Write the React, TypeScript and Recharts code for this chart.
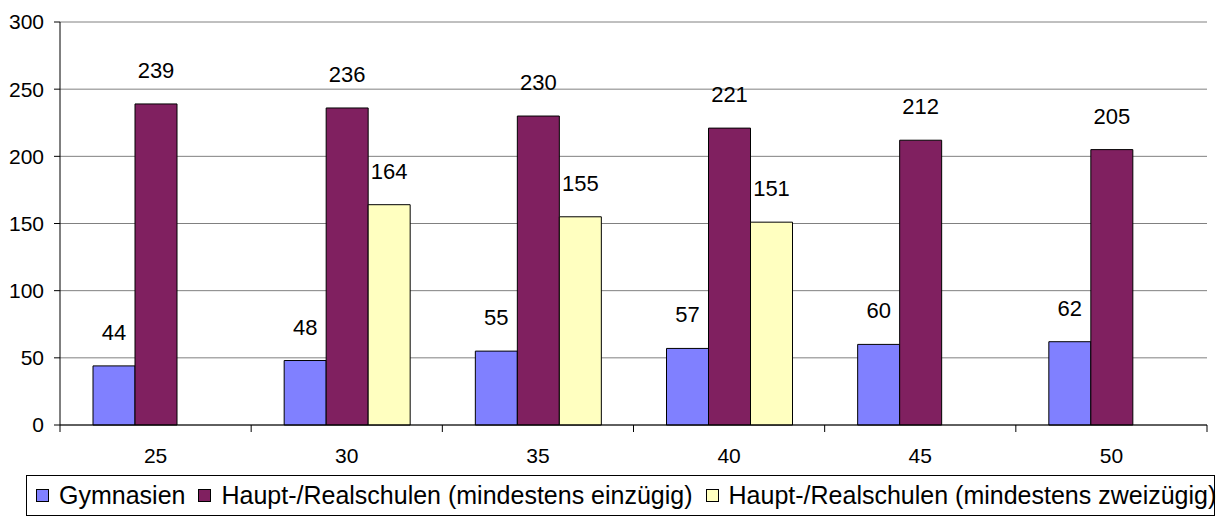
import React from 'react';
import { BarChart, Bar, XAxis, YAxis, CartesianGrid, Legend, LabelList } from 'recharts';

const categories = ['25', '30', '35', '40', '45', '50'];
const gymnasien = [44, 48, 55, 57, 60, 62];
const einzuegig = [239, 236, 230, 221, 212, 205];
const zweizuegig: (number | null)[] = [null, 164, 155, 151, null, null];
const yTicks = [0, 50, 100, 150, 200, 250, 300];

const seriesNames = [
  'Gymnasien',
  'Haupt-/Realschulen (mindestens einzügig)',
  'Haupt-/Realschulen (mindestens zweizügig)',
];
const seriesColors = ['#8080FF', '#802060', '#FFFFC0'];

const data = categories.map((c, i) => ({
  cat: c,
  g: gymnasien[i],
  e: einzuegig[i],
  z: zweizuegig[i],
}));

const FONT = '"Liberation Sans", Arial, sans-serif';

const XTick = (props: any) => {
  const { x, y, payload, index } = props;
  const half = payload && payload.offset ? payload.offset : 95.6;
  const last = index === categories.length - 1;
  return (
    <g>
      <line x1={x - half} x2={x - half} y1={y} y2={y + 7} stroke="#000" strokeWidth={1} />
      {last && <line x1={x + half} x2={x + half} y1={y} y2={y + 7} stroke="#000" strokeWidth={1} />}
      <text x={x} y={y + 38} textAnchor="middle" fontSize={21} fontFamily={FONT} fill="#000">
        {payload.value}
      </text>
    </g>
  );
};

const LegendContent = () => (
  <div
    style={{
      boxSizing: 'border-box',
      width: 1189,
      height: 41,
      border: '1px solid #000',
      display: 'flex',
      alignItems: 'center',
      paddingLeft: 9,
      fontFamily: FONT,
      fontSize: 25,
      color: '#000',
      whiteSpace: 'nowrap',
    }}
  >
    {seriesNames.map((n, i) => (
      <div key={n} style={{ display: 'flex', alignItems: 'center', marginRight: 13 }}>
        <span
          style={{
            display: 'inline-block',
            boxSizing: 'border-box',
            width: 13,
            height: 13,
            background: seriesColors[i],
            border: '1.5px solid #000',
            marginRight: 10,
          }}
        />
        <span>{n}</span>
      </div>
    ))}
  </div>
);

const fmt = (v: any) => (v === null || v === undefined ? '' : v);
const labelStyle = { fontSize: 22, fontFamily: FONT, fill: '#000' };

export default function App() {
  return (
    <div style={{ position: 'absolute', left: 0, top: 0, width: 1220, height: 518, background: '#fff' }}>
      <BarChart
        width={1220}
        height={518}
        data={data}
        margin={{ top: 22, right: 13, left: 0, bottom: 0 }}
        barGap={0}
        barSize={42}
      >
        <CartesianGrid horizontal vertical={false} stroke="#808080" strokeWidth={1} />
        <XAxis
          dataKey="cat"
          height={52}
          axisLine={{ stroke: '#000' }}
          tickLine={false}
          tickSize={0}
          tickMargin={0}
          tick={<XTick />}
          interval={0}
        />
        <XAxis
          xAxisId="top"
          dataKey="cat"
          orientation="top"
          height={0}
          tick={false}
          tickLine={false}
          axisLine={{ stroke: '#000' }}
        />
        <YAxis
          width={60}
          domain={[0, 300]}
          ticks={yTicks}
          interval={0}
          axisLine={{ stroke: '#000' }}
          tickLine={{ stroke: '#000' }}
          tickSize={6}
          tickMargin={10}
          tick={{ fontSize: 21, fontFamily: FONT, fill: '#000' }}
        />
        <YAxis
          yAxisId="right"
          orientation="right"
          width={0}
          domain={[0, 300]}
          tick={false}
          tickLine={false}
          axisLine={{ stroke: '#000' }}
        />
        <Legend
          verticalAlign="bottom"
          height={43}
          content={<LegendContent />}
          wrapperStyle={{ left: 26, bottom: 2, width: 1189, height: 41 }}
        />
        <Bar dataKey="g" name={seriesNames[0]} fill={seriesColors[0]} stroke="#000" strokeWidth={1} isAnimationActive={false}>
          <LabelList dataKey="g" position="top" offset={26} formatter={fmt} style={labelStyle} />
        </Bar>
        <Bar dataKey="e" name={seriesNames[1]} fill={seriesColors[1]} stroke="#000" strokeWidth={1} isAnimationActive={false}>
          <LabelList dataKey="e" position="top" offset={26} formatter={fmt} style={labelStyle} />
        </Bar>
        <Bar dataKey="z" name={seriesNames[2]} fill={seriesColors[2]} stroke="#000" strokeWidth={1} isAnimationActive={false}>
          <LabelList dataKey="z" position="top" offset={26} formatter={fmt} style={labelStyle} />
        </Bar>
      </BarChart>
    </div>
  );
}
